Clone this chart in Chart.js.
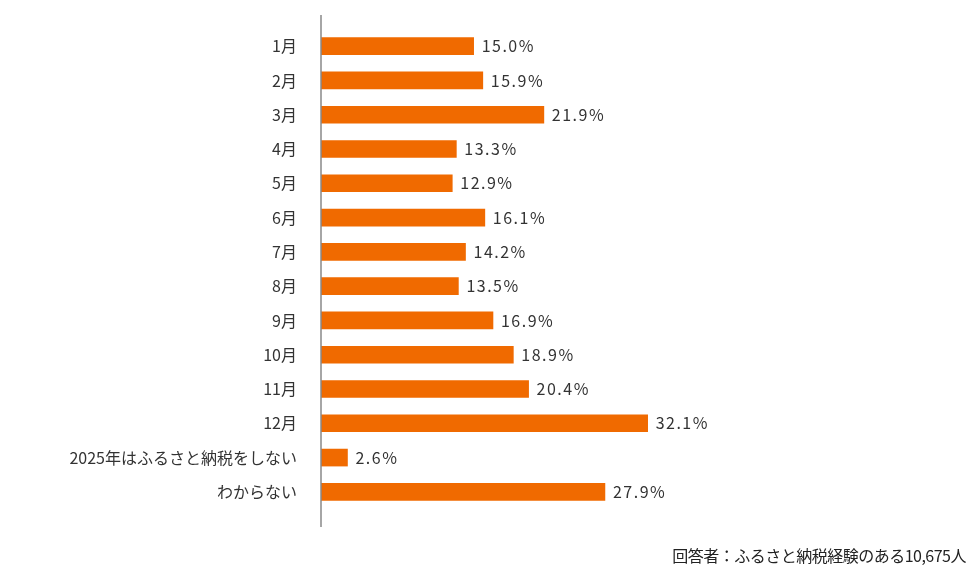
<!DOCTYPE html>
<html><head><meta charset="utf-8">
<script src="https://cdn.jsdelivr.net/npm/chart.js@4/dist/chart.umd.min.js"></script>
<style>
  body { margin:0; background:#fff; }
  #wrap { position:relative; width:980px; height:586px; }
  #note { position:absolute; right:14px; top:543px; font:16px "Noto Sans CJK JP"; color:#222; letter-spacing:-0.5px; }
</style></head>
<body>
<div id="wrap"><canvas id="c" width="980" height="586"></canvas>
<div id="note">回答者：ふるさと納税経験のある10,675人</div></div>
<script>
  const months = ['1月','2月','3月','4月','5月','6月','7月','8月','9月','10月','11月','12月','2025年はふるさと納税をしない','わからない'];
  const shares = [15.0,15.9,21.9,13.3,12.9,16.1,14.2,13.5,16.9,18.9,20.4,32.1,2.6,27.9];

  // value labels at bar ends + longer axis line
  const barLabels = {
    id: 'barLabels',
    afterDatasetsDraw(chart) {
      const c = chart.ctx;
      const a = chart.chartArea;
      c.save();
      c.strokeStyle = '#888';
      c.lineWidth = 1.5;
      c.beginPath();
      c.moveTo(a.left, 15);
      c.lineTo(a.left, 527);
      c.stroke();
      c.font = '16px "Noto Sans CJK JP"';
      c.fillStyle = '#333';
      c.textBaseline = 'middle';
      c.letterSpacing = '1.5px';
      chart.getDatasetMeta(0).data.forEach((bar, i) => {
        c.fillText(shares[i].toFixed(1) + '%', bar.x + 8, bar.y);
      });
      c.restore();
    }
  };

  new Chart(document.getElementById('c'), {
    type: 'bar',
    data: { labels: months, datasets: [{ data: shares, backgroundColor: '#F06A00', barThickness: 17 }] },
    options: {
      responsive: false, animation: false, indexAxis: 'y',
      layout: { padding: { top: 29, bottom: 77, right: 313, left: 0 } },
      plugins: { legend: { display: false }, tooltip: { enabled: false } },
      scales: {
        x: { display: false, min: 0, max: 34 },
        y: {
          afterFit(scale) { scale.width = 321; },
          grid: { display: false },
          border: { display: false },
          ticks: { color: '#333', padding: 16, font: { size: 16, family: '"Noto Sans CJK JP"' } }
        }
      }
    },
    plugins: [barLabels]
  });
</script>
</body></html>
